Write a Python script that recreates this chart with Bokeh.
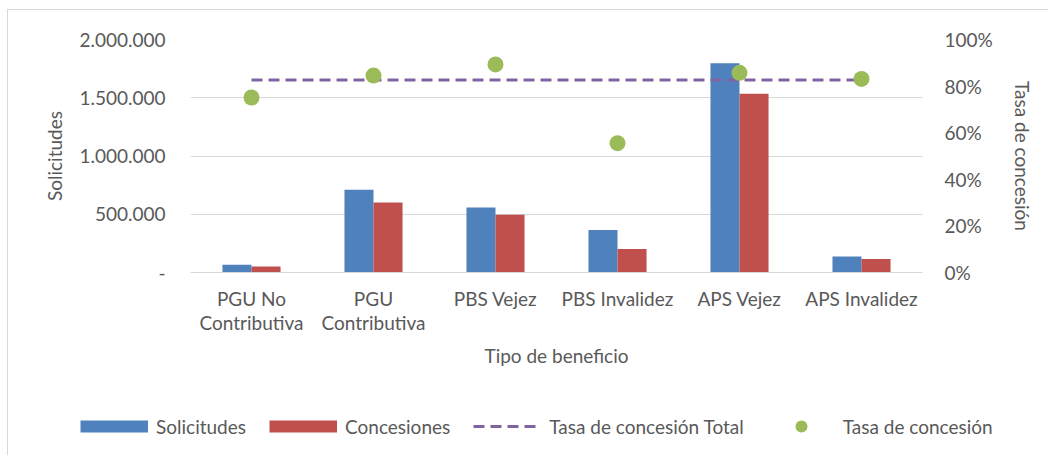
from bokeh.plotting import figure
from bokeh.models import (FactorRange, Range1d, LinearAxis, FixedTicker, Legend, LegendItem,
                          ColumnDataSource)
from bokeh.layouts import column
from bokeh.transform import dodge
from bokeh.embed import file_html
from bokeh.resources import INLINE

# ---- data ----
categories = ["PGU No\nContributiva", "PGU\nContributiva", "PBS Vejez", "PBS Invalidez",
              "APS Vejez", "APS Invalidez"]
solicitudes = [66000, 710000, 558000, 364000, 1797000, 137000]
concesiones = [51000, 601000, 495000, 201000, 1534000, 115000]
tasa_concesion = [0.751, 0.845, 0.893, 0.555, 0.857, 0.831]
tasa_total = 0.826

y_ticks = [0, 500000, 1000000, 1500000, 2000000]
y_tick_labels = ["-", "500.000", "1.000.000", "1.500.000", "2.000.000"]
pct_ticks = [0, 0.2, 0.4, 0.6, 0.8, 1.0]
pct_tick_labels = ["0%", "20%", "40%", "60%", "80%", "100%"]
legend_labels = ["Solicitudes", "Concesiones", "Tasa de concesión Total", "Tasa de concesión"]

BLUE = "#4F81BD"
RED = "#C0504D"
GREEN = "#9BBB59"
PURPLE = "#8064A2"
GRID = "#D9D9D9"
TXT = "#595959"
FONT = "Lato"
FS = "19px"
DASH = "11 6"

src = ColumnDataSource(dict(cat=categories, sol=solicitudes, con=concesiones, tasa=tasa_concesion))

p = figure(width=1040, height=375, x_range=FactorRange(*categories),
           y_range=Range1d(0, 2000000), output_backend="svg", toolbar_location=None,
           min_border_left=182, min_border_right=126, min_border_top=29, min_border_bottom=113)
p.frame_align = False
p.extra_y_ranges = {"pct": Range1d(0, 1)}
p.outline_line_color = None
p.background_fill_color = "white"
p.border_fill_color = "white"

bw = 0.238
r_sol = p.vbar(x=dodge("cat", -bw / 2, range=p.x_range), top="sol", width=bw, source=src,
               fill_color=BLUE, line_color=None)
r_con = p.vbar(x=dodge("cat", bw / 2, range=p.x_range), top="con", width=bw, source=src,
               fill_color=RED, line_color=None)
r_tot = p.line(x=[categories[0], categories[-1]], y=[tasa_total, tasa_total], y_range_name="pct",
               line_color=PURPLE, line_width=3, line_dash=DASH)
r_tasa = p.scatter(x="cat", y="tasa", source=src, y_range_name="pct", size=16,
                   fill_color=GREEN, line_color=None)

# axes
p.xgrid.grid_line_color = None
p.ygrid.grid_line_color = GRID
p.ygrid.grid_line_width = 1
p.yaxis.ticker = FixedTicker(ticks=y_ticks)
p.yaxis.major_label_overrides = {t: l for t, l in zip(y_ticks, y_tick_labels)}
p.yaxis.axis_label = "Solicitudes"
p.xaxis.axis_label = "Tipo de beneficio"

right = LinearAxis(y_range_name="pct", ticker=FixedTicker(ticks=pct_ticks),
                   axis_label="Tasa de concesión")
right.major_label_overrides = {t: l for t, l in zip(pct_ticks, pct_tick_labels)}
p.add_layout(right, "right")

for ax in [p.xaxis[0], p.yaxis[0], right]:
    ax.major_tick_line_color = None
    ax.minor_tick_line_color = None
    ax.major_tick_out = 0
    ax.major_tick_in = 0
    ax.minor_tick_out = 0
    ax.minor_tick_in = 0
    ax.major_label_text_font = FONT
    ax.major_label_text_font_size = FS
    ax.major_label_text_color = TXT
    ax.axis_label_text_font = FONT
    ax.axis_label_text_font_size = FS
    ax.axis_label_text_color = TXT
    ax.axis_label_text_font_style = "normal"

p.yaxis[0].axis_line_color = None
right.axis_line_color = None
p.xaxis[0].axis_line_color = GRID
p.yaxis[0].major_label_standoff = 25
p.yaxis[0].axis_label_standoff = 10
right.major_label_standoff = 22
right.axis_label_standoff = 15
p.xaxis[0].major_label_standoff = 14
p.xaxis[0].major_label_text_line_height = 1.05
p.xaxis[0].axis_label_standoff = 7

# ---- legend strip (separate figure below the chart) ----
pl = figure(width=1040, height=70, x_range=Range1d(0, 1), y_range=Range1d(0, 1),
            output_backend="svg", toolbar_location=None, x_axis_location=None,
            y_axis_location=None, min_border=0)
pl.frame_align = False
pl.outline_line_color = None
pl.grid.visible = False
pl.border_fill_color = "white"
pl.background_fill_color = "white"
idx = list(range(len(categories)))
# hidden stand-ins that only provide the legend swatches
l_sol = pl.line(x=idx, y=solicitudes, line_color=BLUE, line_width=12, line_cap="butt", visible=False)
l_con = pl.line(x=idx, y=concesiones, line_color=RED, line_width=12, line_cap="butt", visible=False)
l_tot = pl.line(x=idx, y=[tasa_total] * len(idx), line_color=PURPLE, line_width=3,
                line_dash=DASH, visible=False)
l_tasa = pl.scatter(x=idx, y=tasa_concesion, size=16, fill_color=GREEN, line_color=None,
                    visible=False)

legend = Legend(items=[LegendItem(label=lab, renderers=[r])
                       for lab, r in zip(legend_labels, [l_sol, l_con, l_tot, l_tasa])],
                location=(72, 14), orientation="horizontal", glyph_width=68, glyph_height=30,
                label_standoff=8, padding=0, margin=0, spacing=23,
                border_line_color=None, background_fill_alpha=0,
                inactive_fill_alpha=0,
                label_text_font=FONT, label_text_font_size=FS, label_text_color=TXT)
pl.add_layout(legend, "center")

layout = column(p, pl, spacing=0,
                styles={"margin-left": "7px", "margin-top": "9px",
                        "border-left": "1px solid #D9D9D9", "border-top": "1px solid #D9D9D9"})

open("out.html", "w").write(file_html(layout, INLINE))
